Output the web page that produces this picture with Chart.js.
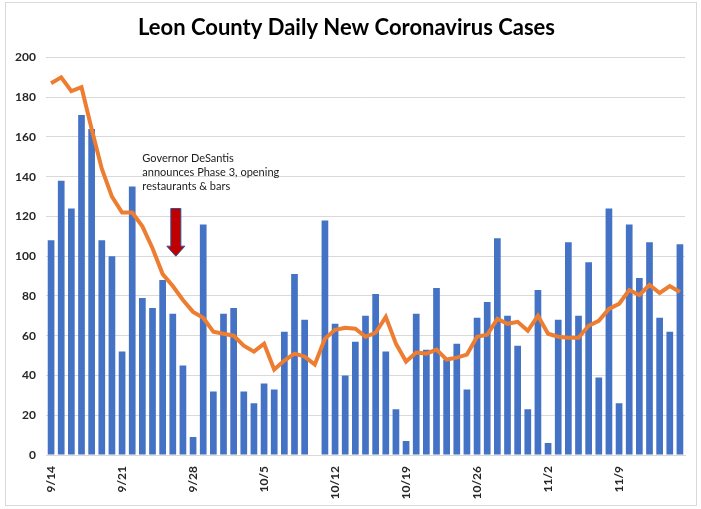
<!DOCTYPE html>
<html lang="en">
<head>
  <meta charset="UTF-8" />
  <title>Leon County Daily New Coronavirus Cases</title>
  <script src="https://cdn.jsdelivr.net/npm/chart.js"></script>
  <style>
    body { margin: 0; background: #fff; }
    #frame {
      position: absolute; left: 5px; top: 2px;
      width: 690px; height: 502px;
      border: 1px solid #d9d9d9;
    }
    #wrap { position: absolute; left: 0; top: 0; width: 701px; height: 509px; }
  </style>
</head>
<body>
  <div id="frame"></div>
  <div id="wrap"><canvas id="chart" width="701" height="509"></canvas></div>

  <script>
    // one bar per day, 9/14 .. 11/15
    const days = [
      '9/14','9/15','9/16','9/17','9/18','9/19','9/20',
      '9/21','9/22','9/23','9/24','9/25','9/26','9/27',
      '9/28','9/29','9/30','10/1','10/2','10/3','10/4',
      '10/5','10/6','10/7','10/8','10/9','10/10','10/11',
      '10/12','10/13','10/14','10/15','10/16','10/17','10/18',
      '10/19','10/20','10/21','10/22','10/23','10/24','10/25',
      '10/26','10/27','10/28','10/29','10/30','10/31','11/1',
      '11/2','11/3','11/4','11/5','11/6','11/7','11/8',
      '11/9','11/10','11/11','11/12','11/13','11/14','11/15'
    ];
    const shownTicks = ['9/14','9/21','9/28','10/5','10/12','10/19','10/26','11/2','11/9'];

    const newCases = [
      108,138,124,171,164,108,100,52,135,79,74,88,71,45,9,116,32,71,74,
      32,26,36,33,62,91,68,null,118,66,40,57,70,81,52,23,7,71,53,84,48,56,
      33,69,77,109,70,55,23,83,6,68,107,70,97,39,124,26,116,89,107,69,62,106
    ];
    const avgCases = [
      187,190,183,185,164,144,130,122,122,115,104,91,85,78,72,69,62,61,60,
      55,52,56,43,47.5,51,49.5,45.5,58.5,63,64,63.5,59.5,61.5,69.5,56,47,51.5,51,53,48,49,
      50.5,59.5,60.5,68.5,66,67,62.5,70,61,59.5,59,59,65,67.5,73.5,76,83,80.5,85.5,81.5,85,82
    ];

    const noteLines = ['Governor DeSantis', 'announces Phase 3, opening', 'restaurants & bars'];
    const noteAt = { index: 9.0, value: 149 };
    const arrowAt = { index: 12.3, from: 124, to: 100 };

    // callout text + red arrow
    const notePlugin = {
      id: 'note',
      afterDatasetsDraw(chart) {
        const { ctx, scales: { x, y } } = chart;
        ctx.save();
        ctx.font = '11px Lato';
        ctx.fillStyle = '#1a1a1a';
        ctx.textBaseline = 'middle';
        const tx = x.getPixelForValue(noteAt.index);
        let ty = y.getPixelForValue(noteAt.value);
        noteLines.forEach(line => { ctx.fillText(line, tx, ty); ty += 14; });

        const ax = x.getPixelForValue(arrowAt.index);
        const top = y.getPixelForValue(arrowAt.from);
        const tip = y.getPixelForValue(arrowAt.to);
        const headLen = 10, half = 5, headHalf = 9;
        ctx.beginPath();
        ctx.moveTo(ax - half, top);
        ctx.lineTo(ax + half, top);
        ctx.lineTo(ax + half, tip - headLen);
        ctx.lineTo(ax + headHalf, tip - headLen);
        ctx.lineTo(ax, tip);
        ctx.lineTo(ax - headHalf, tip - headLen);
        ctx.lineTo(ax - half, tip - headLen);
        ctx.closePath();
        ctx.fillStyle = '#C00000';
        ctx.fill();
        ctx.strokeStyle = '#2F528F';
        ctx.lineWidth = 1;
        ctx.stroke();
        ctx.restore();
      }
    };

    const ctx = document.getElementById('chart').getContext('2d');
    new Chart(ctx, {
      type: 'bar',
      data: {
        labels: days,
        datasets: [
          {
            type: 'line',
            label: '7-day average',
            data: avgCases,
            borderColor: '#ED7D31',
            borderWidth: 4,
            pointRadius: 0,
            tension: 0,
            order: 0
          },
          {
            type: 'bar',
            label: 'Daily new cases',
            data: newCases,
            backgroundColor: '#4472C4',
            barPercentage: 0.66,
            categoryPercentage: 1,
            order: 1
          }
        ]
      },
      options: {
        responsive: false,
        animation: false,
        layout: { padding: { left: 8, right: 16, top: 0, bottom: 0 } },
        plugins: {
          legend: { display: false },
          tooltip: { enabled: false },
          title: {
            display: true,
            text: 'Leon County Daily New Coronavirus Cases',
            color: '#000',
            font: { family: 'Lato', size: 22, weight: 'bold' },
            padding: { top: 15, bottom: 16 }
          }
        },
        scales: {
          x: {
            grid: { display: false },
            border: { color: '#d9d9d9' },
            afterFit(s) { s.height = 54; },
            ticks: {
              autoSkip: false,
              maxRotation: 90,
              minRotation: 90,
              color: '#262626',
              font: { family: 'Lato', size: 12, weight: 'bold' },
              callback(v, i) { return shownTicks.includes(days[i]) ? days[i] : ''; }
            }
          },
          y: {
            min: 0,
            max: 200,
            afterFit(s) { s.width = 38; },
            border: { display: false },
            grid: { color: '#d9d9d9', drawTicks: false },
            ticks: {
              stepSize: 20,
              padding: 10,
              color: '#262626',
              font: { family: 'Lato', size: 12, weight: 'bold' }
            }
          }
        }
      },
      plugins: [notePlugin]
    });
  </script>
</body>
</html>
